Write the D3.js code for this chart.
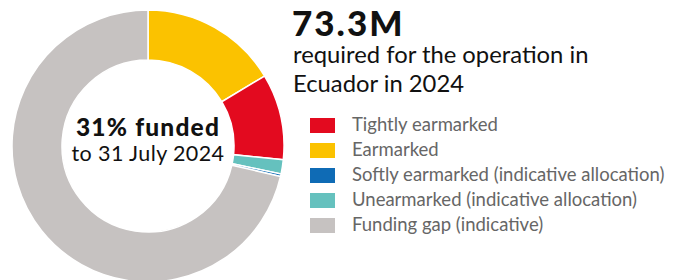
<!DOCTYPE html>
<html lang="en">
<head>
<meta charset="utf-8">
<title>Ecuador funding</title>
<script src="https://cdn.jsdelivr.net/npm/d3@7"></script>
<style>
  body { margin: 0; background: #fff; }
  svg { display: block; font-family: Lato, "Open Sans", sans-serif; }
</style>
</head>
<body>
<script>
var width = 679, height = 280

// values in % of requirement, in drawing order (clockwise from top)
var slices = ["Earmarked", "Tightly earmarked", "Unearmarked (indicative allocation)", "Softly earmarked (indicative allocation)", "Funding gap (indicative)"]
var shares = [16.4, 10.2, 1.7, 0.3, 71.4]
var legendItems = ["Tightly earmarked", "Earmarked", "Softly earmarked (indicative allocation)", "Unearmarked (indicative allocation)", "Funding gap (indicative)"]
var colours = ["#e30a1f", "#fbc200", "#0f6bb5", "#65c1be", "#c6c2c1"]

var colour = d3.scaleOrdinal().domain(legendItems).range(colours)

var svg = d3.select("body").append("svg").attr("width", width).attr("height", height)

var cx = 148, cy = 146, rOut = 136, rIn = 86

var pie = d3.pie().sort(null).value(function(d) { return d.v })
var arc = d3.arc().innerRadius(rIn).outerRadius(rOut)
var arcs = pie(slices.map(function(s, i) { return {k: s, v: shares[i]} }))

var g = svg.append("g").attr("transform", "translate(" + cx + "," + cy + ")")
g.selectAll("path")
  .data(arcs)
  .enter()
  .append("path")
    .attr("d", arc)
    .attr("fill", function(d) { return colour(d.data.k) })
    .attr("stroke", "#fff")
    .attr("stroke-width", 1.5)

g.append("text").attr("text-anchor", "middle").attr("y", -10)
  .style("font-size", "24.5px").style("font-weight", 900).style("letter-spacing", "1.2px").attr("fill", "#111")
  .text("31% funded")
g.append("text").attr("text-anchor", "middle").attr("y", 15)
  .style("font-size", "21.5px").style("letter-spacing", "0.4px").attr("fill", "#111")
  .text("to 31 July 2024")

svg.append("text").attr("x", 292).attr("y", 36)
  .style("font-size", "35px").style("font-weight", 900).style("letter-spacing", "2px").attr("fill", "#111")
  .text("73.3M")
svg.append("text").attr("x", 293).attr("y", 63)
  .style("font-size", "23.8px").attr("fill", "#111")
  .text("required for the operation in")
svg.append("text").attr("x", 293).attr("y", 92)
  .style("font-size", "23.8px").attr("fill", "#111")
  .text("Ecuador in 2024")

var ly = d3.scalePoint().domain(legendItems).range([118, 218])
var lg = svg.selectAll(".leg").data(legendItems).enter().append("g")
  .attr("transform", function(d) { return "translate(310," + ly(d) + ")" })
lg.append("rect").attr("width", 25).attr("height", 15).attr("fill", function(d) { return colour(d) })
lg.append("text").attr("x", 42).attr("y", 13)
  .style("font-size", "18.5px").attr("fill", "#666")
  .text(function(d) { return d })
</script>
</body>
</html>
